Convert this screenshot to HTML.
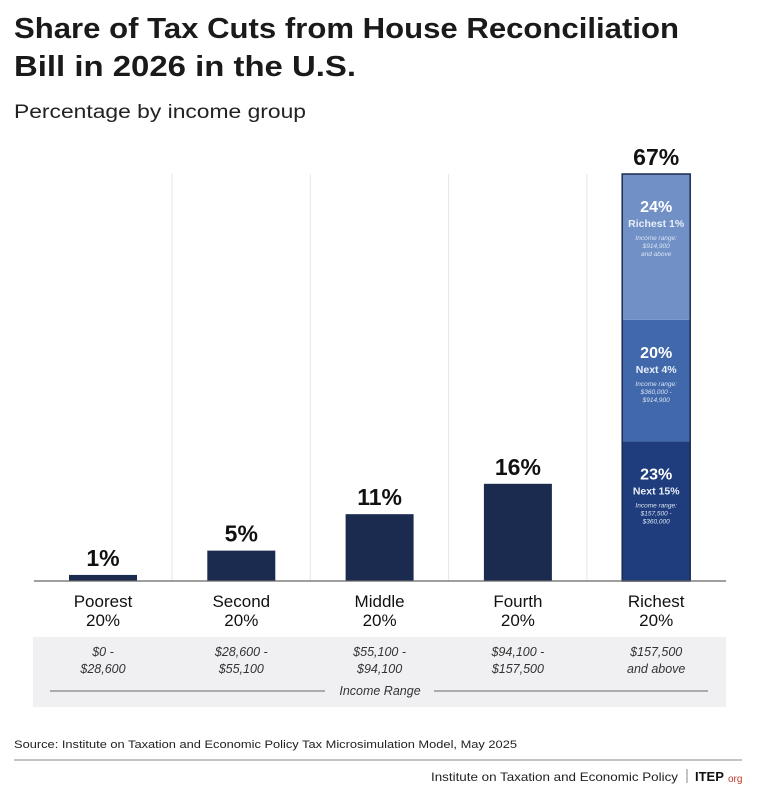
<!DOCTYPE html>
<html><head><meta charset="utf-8"><style>
body{margin:0;background:#fff;font-family:"Liberation Sans","DejaVu Sans",sans-serif;}
#wrap{position:relative;width:769px;height:788px;overflow:hidden;background:#fff;}
</style></head><body>
<div id="wrap">
<svg id="chart" width="769" height="788"></svg>
</div>
<script>
const categories=["Poorest","Second","Middle","Fourth","Richest"];
const values=[1,5,11,16,67];
const ranges=[["$0 -","$28,600"],["$28,600 -","$55,100"],["$55,100 -","$94,100"],["$94,100 -","$157,500"],["$157,500","and above"]];
const stackValues=[23,20,24];
const stackLabels=["Next 15%","Next 4%","Richest 1%"];
const stackRanges=[["$157,500 -","$360,000"],["$360,000 -","$914,900"],["$914,900","and above"]];
const stackColors=["#1f3d7c","#4068aa","#7090c6"];

const NS="http://www.w3.org/2000/svg";
const svg=document.getElementById('chart');
const base=581, pxPer=407/67;
const y=v=>base-v*pxPer;
const xc=i=>103+i*138.3;
const bw=68;
function el(tag,attrs,parent){const e=document.createElementNS(NS,tag);for(const k in attrs)e.setAttribute(k,attrs[k]);(parent||svg).appendChild(e);return e;}
function txt(x,yy,s,size,weight,fill,style,anchor){const t=el('text',{x:x,y:yy,'font-size':size,'font-weight':weight||'normal',fill:fill||'#111','text-anchor':anchor||'middle','font-style':style||'normal'});t.textContent=s;return t;}
function fit(t,w){t.setAttribute('textLength',w);t.setAttribute('lengthAdjust','spacingAndGlyphs');}

let t;
t=txt(14,38,"Share of Tax Cuts from House Reconciliation",29,'bold','#1a1a1a','normal','start');
fit(t,665);

t=txt(14,76,"Bill in 2026 in the U.S.",29,'bold','#1a1a1a','normal','start');
fit(t,342);

t=txt(14,118,"Percentage by income group",19,'normal','#222','normal','start');
fit(t,292);


for(let i=0;i<4;i++){const g=el('line',{x1:xc(i)+69,x2:xc(i)+69,y1:174,y2:base,stroke:'#e6e6e6','stroke-width':1});
}

const box=el('rect',{x:33,y:637,width:693,height:70,fill:'#f0f0f3'});


values.forEach((v,i)=>{
  if(i<4){
    const r=el('rect',{x:xc(i)-bw/2,y:y(v),width:bw,height:v*pxPer,fill:'#1b2b50'});
    
  }
  const lab=txt(xc(i),y(v)-9,v+"%",23,'bold','#111');
  
  const c1=txt(xc(i),607,categories[i],17,'normal','#111');
  
  const c2=txt(xc(i),626,"20%",17,'normal','#111');
  
  const r1=txt(xc(i),656,ranges[i][0],12.5,'normal','#333','italic');
  
  const r2=txt(xc(i),673,ranges[i][1],12.5,'normal','#333','italic');
  
});

let cum=0;const sx=xc(4);
stackValues.forEach((v,j)=>{
  const top=y(cum+v), bot=y(cum);
  const r=el('rect',{x:sx-bw/2,y:top,width:bw,height:bot-top,fill:stackColors[j]});
  
  let a=txt(sx,top+38,v+"%",16,'bold','#fff');
  a=txt(sx,top+53,stackLabels[j],10.5,'bold','#e8eefa');
  a=txt(sx,top+66,"Income range:",6.5,'normal','#dbe4f5','italic');
  a=txt(sx,top+74,stackRanges[j][0],6.5,'normal','#dbe4f5','italic');
  a=txt(sx,top+82,stackRanges[j][1],6.5,'normal','#dbe4f5','italic');
  cum+=v;
});
const ol=el('rect',{x:sx-bw/2,y:y(cum),width:bw,height:cum*pxPer,fill:'none',stroke:'#1b2b50','stroke-width':1.5});


const ax=el('line',{x1:34,x2:726,y1:base,y2:base,stroke:'#666','stroke-width':1.2});


let l=el('line',{x1:50,x2:325,y1:691,y2:691,stroke:'#666','stroke-width':1});
l=el('line',{x1:434,x2:708,y1:691,y2:691,stroke:'#666','stroke-width':1});
t=txt(380,695,"Income Range",12.5,'normal','#333','italic');

t=txt(14,748,"Source: Institute on Taxation and Economic Policy Tax Microsimulation Model, May 2025",11,'normal','#222','normal','start');
fit(t,503);

l=el('line',{x1:14,x2:742,y1:760,y2:760,stroke:'#888','stroke-width':1});
t=txt(431,781,"Institute on Taxation and Economic Policy",12,'normal','#222','normal','start');
fit(t,247);

l=el('line',{x1:687,x2:687,y1:769,y2:783,stroke:'#888','stroke-width':1});
t=txt(695,781,"ITEP",13,'bold','#111','normal','start');

t=txt(728,782,"org",10,'normal','#c0392b','normal','start');

</script>
</body></html>
